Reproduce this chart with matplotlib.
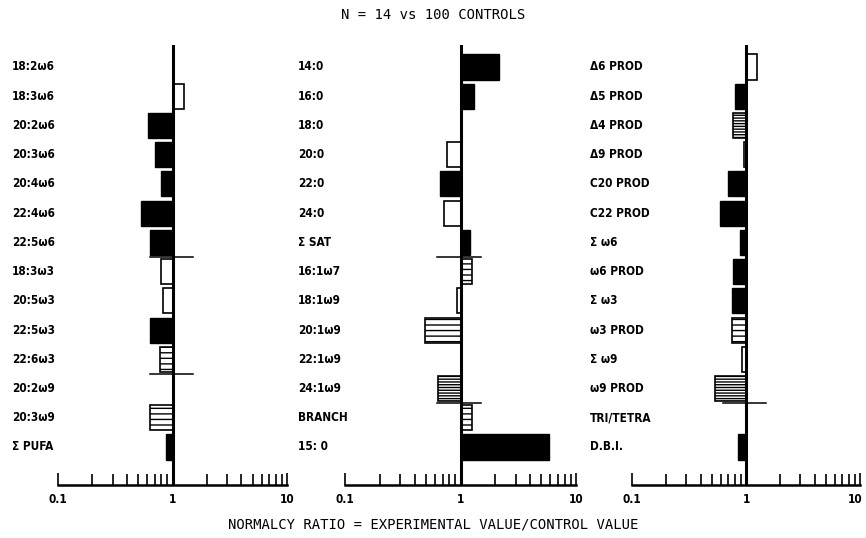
import matplotlib
matplotlib.use("Agg")
import matplotlib.pyplot as plt
from matplotlib.ticker import FixedLocator, NullFormatter
import matplotlib.transforms as mtransforms

# ---------------- data ----------------
labels_p1 = ["18:2ω6", "18:3ω6", "20:2ω6", "20:3ω6", "20:4ω6", "22:4ω6", "22:5ω6",
             "18:3ω3", "20:5ω3", "22:5ω3", "22:6ω3", "20:2ω9", "20:3ω9", "Σ PUFA"]
values_p1 = [1.0, 1.25, 0.61, 0.71, 0.79, 0.53, 0.64,
             0.80, 0.82, 0.63, 0.77, 1.0, 0.63, 0.87]
fills_p1 = ["N", "W", "B", "B", "B", "B", "B",
            "W", "W", "B", "H", "N", "H", "B"]

labels_p2 = ["14:0", "16:0", "18:0", "20:0", "22:0", "24:0", "Σ SAT",
             "16:1ω7", "18:1ω9", "20:1ω9", "22:1ω9", "24:1ω9", "BRANCH", "15: 0"]
values_p2 = [2.14, 1.30, 1.0, 0.77, 0.66, 0.72, 1.20,
             1.25, 0.94, 0.49, 1.0, 0.64, 1.27, 5.8]
fills_p2 = ["B", "B", "N", "W", "B", "W", "B",
            "H", "W", "H", "N", "D", "H", "B"]

labels_p3 = ["Δ6 PROD", "Δ5 PROD", "Δ4 PROD", "Δ9 PROD", "C20 PROD", "C22 PROD", "Σ ω6",
             "ω6 PROD", "Σ ω3", "ω3 PROD", "Σ ω9", "ω9 PROD", "TRI/TETRA", "D.B.I."]
values_p3 = [1.25, 0.80, 0.77, 0.96, 0.70, 0.59, 0.89,
             0.77, 0.76, 0.75, 0.92, 0.54, 1.0, 0.85]
fills_p3 = ["W", "B", "D", "W", "B", "B", "B",
            "B", "B", "H", "W", "D", "N", "B"]

separators_p1 = [6.5, 10.5]
separators_p2 = [6.5, 11.5]
separators_p3 = [11.5]

title = "N = 14 vs 100 CONTROLS"
xlabel = "NORMALCY RATIO = EXPERIMENTAL VALUE/CONTROL VALUE"
tick_vals = [0.1, 1, 10]
tick_text = ["0.1", "1", "10"]

# ---------------- style ----------------
label_font = ["DejaVu Sans", "Liberation Sans"]
mono_font = ["DejaVu Sans Mono", "DejaVu Sans"]
plt.rcParams['hatch.linewidth'] = 1.0

fig = plt.figure(figsize=(8.66, 5.38), dpi=100)
W, H = 866, 538

panels = [
    (labels_p1, values_p1, fills_p1, separators_p1, 58, 287, 12),
    (labels_p2, values_p2, fills_p2, separators_p2, 345, 576, 298),
    (labels_p3, values_p3, fills_p3, separators_p3, 632, 860, 590),
]

top_px, bot_px = 45, 485
n = 14
first_row_px, last_row_px = 67, 447
spacing = (last_row_px - first_row_px) / (n - 1)
ytop = -(first_row_px - top_px) / spacing
ybot = (n - 1) + (bot_px - last_row_px) / spacing

minor = [0.2, 0.3, 0.4, 0.5, 0.6, 0.7, 0.8, 0.9, 2, 3, 4, 5, 6, 7, 8, 9]

for k, (labels, values, fills, seps, x0, x1, lab_x) in enumerate(panels):
    ax = fig.add_axes([x0 / W, 1 - bot_px / H, (x1 - x0) / W, (bot_px - top_px) / H])
    ax.set_xscale("log")
    ax.set_xlim(0.1, 10)
    ax.set_ylim(ybot, ytop)
    for s in ["top", "right", "left"]:
        ax.spines[s].set_visible(False)
    ax.spines["bottom"].set_linewidth(1.8)
    ax.set_yticks([])
    ax.xaxis.set_major_locator(FixedLocator(tick_vals))
    ax.xaxis.set_minor_locator(FixedLocator(minor))
    ax.xaxis.set_minor_formatter(NullFormatter())
    ax.set_xticklabels(tick_text, family=label_font, fontsize=8.5, fontweight="bold",
                       fontstretch="condensed")
    ax.tick_params(axis="x", which="both", direction="in", width=1.2, pad=6)
    ax.tick_params(axis="x", which="major", length=9)
    ax.tick_params(axis="x", which="minor", length=8)
    if k == 2:
        lbl = ax.get_xticklabels()[-1]
        lbl.set_transform(lbl.get_transform() +
                          mtransforms.ScaledTranslation(-5 / 100, 0, fig.dpi_scale_trans))

    for i, (v, f) in enumerate(zip(values, fills)):
        if f == "N":
            continue
        left = min(1.0, v)
        width = abs(v - 1.0)
        if f == "B":
            ax.barh(i, width, left=left, height=0.86, color="black",
                    edgecolor="black", linewidth=1.0)
        elif f == "W":
            ax.barh(i, width, left=left, height=0.86, color="white",
                    edgecolor="black", linewidth=1.2)
        elif f == "H":
            ax.barh(i, width, left=left, height=0.86, color="white",
                    edgecolor="black", linewidth=1.2, hatch="---")
        elif f == "D":
            ax.barh(i, width, left=left, height=0.86, color="white",
                    edgecolor="black", linewidth=1.2, hatch="------")

    ax.axvline(1.0, color="black", linewidth=2.2, zorder=5)
    for s in seps:
        ax.plot([0.63, 1.5], [s, s], color="black", linewidth=1.1)

    trans = mtransforms.blended_transform_factory(fig.transFigure, ax.transData)
    for i, lab in enumerate(labels):
        ax.text(lab_x / W, i, lab, transform=trans, ha="left", va="center",
                family=label_font, fontsize=8.5, fontweight="bold",
                fontstretch="condensed", clip_on=False)

fig.text(0.5, 1 - 15 / H, title, ha="center", va="center", family=mono_font, fontsize=10)
fig.text(0.5, 1 - 524 / H, xlabel, ha="center", va="center", family=mono_font, fontsize=10)

fig.savefig("out.png", dpi=100)
